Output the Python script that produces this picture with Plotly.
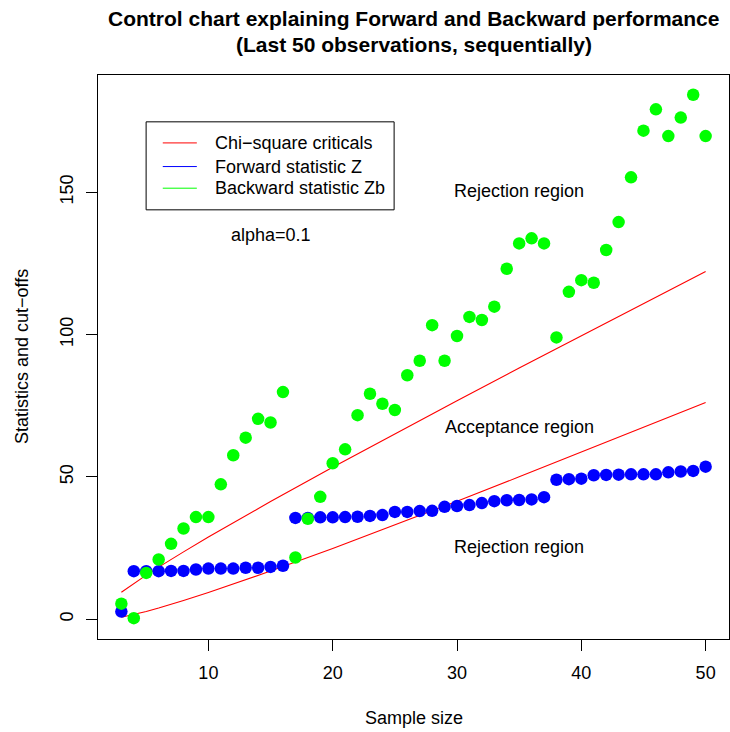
import plotly.graph_objects as go

# ---------------- data ----------------
sample_size = list(range(3, 51))
forward_z = [2.7, 16.9, 16.9, 16.9, 17.0, 17.0, 17.5, 17.8, 17.8, 17.8, 18.1, 18.1, 18.4, 18.8,
             35.6, 35.6, 35.8, 35.8, 35.9, 36.0, 36.3, 36.6, 37.7, 37.7, 38.0, 38.1, 39.5, 39.8,
             40.1, 40.8, 41.5, 41.8, 41.9, 42.1, 42.9, 49.0, 49.2, 49.4, 50.6, 50.7, 50.8, 50.9,
             50.9, 50.9, 51.6, 51.9, 52.1, 53.6]
backward_zb = [5.5, 0.4, 16.3, 21.0, 26.5, 31.9, 35.9, 35.9, 47.4, 57.6, 63.8, 70.4, 69.1, 79.8,
               21.7, 35.3, 43.0, 54.8, 59.7, 71.7, 79.2, 75.7, 73.5, 85.7, 90.8, 103.3, 90.8, 99.5,
               106.2, 105.1, 109.8, 123.1, 132.0, 133.8, 132.0, 99.0, 115.0, 119.1, 118.2, 129.7,
               139.5, 155.2, 171.6, 179.1, 169.7, 176.2, 184.2, 169.7]
crit_n = [3, 4, 5, 6, 7, 8, 10, 12, 15, 20, 25, 30, 35, 40, 45, 50]
crit_lower = [0.71, 1.64, 2.73, 3.94, 5.23, 6.57, 9.39, 12.34, 16.93, 24.88, 33.10, 41.49,
              50.02, 58.65, 67.37, 76.16]
crit_upper = [9.49, 12.59, 15.51, 18.31, 21.03, 23.68, 28.87, 33.92, 41.34, 53.38, 65.17,
              76.78, 88.25, 99.62, 110.90, 122.11]

x_ticks = [10, 20, 30, 40, 50]
y_ticks = [0, 50, 100, 150]
legend_labels = ["Chi\u2212square criticals", "Forward statistic Z", "Backward statistic Zb"]
legend_colors = ["#FF0000", "#0000FF", "#00FF00"]
region_labels = ["Rejection region", "Acceptance region", "Rejection region"]
title_lines = ["Control chart explaining Forward and Backward performance",
               "(Last 50 observations, sequentially)"]

FONT = "Liberation Sans, Arial, Helvetica, sans-serif"

# ---------------- figure ----------------
fig = go.Figure()
fig.add_trace(go.Scatter(x=crit_n, y=crit_upper, mode="lines",
                         line=dict(color="#FF0000", width=1.1), hoverinfo="skip"))
fig.add_trace(go.Scatter(x=crit_n, y=crit_lower, mode="lines",
                         line=dict(color="#FF0000", width=1.1), hoverinfo="skip"))
fig.add_trace(go.Scatter(x=sample_size, y=forward_z, mode="markers",
                         marker=dict(color="#0000FF", size=12.5, line=dict(width=0))))
fig.add_trace(go.Scatter(x=sample_size, y=backward_zb, mode="markers",
                         marker=dict(color="#00FF00", size=12.5, line=dict(width=0))))

XR = [1.12, 51.88]
YR = [-6.92, 191.15]

axis_common = dict(showgrid=False, zeroline=False, showline=True, mirror=True,
                   linecolor="black", linewidth=1, ticks="outside", ticklen=11,
                   tickwidth=1, tickcolor="black",
                   tickfont=dict(family=FONT, size=18, color="black"))

fig.update_layout(
    width=730, height=732,
    margin=dict(l=98, r=1, t=75, b=93),
    paper_bgcolor="white", plot_bgcolor="white",
    showlegend=False,
    font=dict(family=FONT, color="black", size=18),
    xaxis=dict(range=XR, tickvals=x_ticks, ticklabelstandoff=6, **axis_common),
    yaxis=dict(range=YR, tickvals=y_ticks, tickangle=-90, ticklabelstandoff=6, **axis_common),
)

ann = []
# titles
ann.append(dict(text="<b>%s</b>" % title_lines[0], xref="paper", yref="paper", x=0.5, y=1,
                yshift=75 - 18, xanchor="center", yanchor="middle", showarrow=False,
                font=dict(family=FONT, size=21, color="black")))
ann.append(dict(text="<b>%s</b>" % title_lines[1], xref="paper", yref="paper", x=0.5, y=1,
                yshift=75 - 44, xanchor="center", yanchor="middle", showarrow=False,
                font=dict(family=FONT, size=21, color="black")))
# axis titles
ann.append(dict(text="Sample size", xref="paper", yref="paper", x=0.5, y=0,
                yshift=-(718 - 639), xanchor="center", yanchor="middle", showarrow=False,
                font=dict(family=FONT, size=18, color="black")))
ann.append(dict(text="Statistics and cut\u2212offs", xref="paper", yref="paper", x=0, y=0.5,
                xshift=-(98 - 22), xanchor="center", yanchor="middle", textangle=-90,
                showarrow=False, font=dict(family=FONT, size=18, color="black")))
# region texts
for lbl, yy in zip(region_labels, [150.5, 67.5, 25.5]):
    ann.append(dict(text=lbl, x=35, y=yy, xref="x", yref="y", showarrow=False,
                    xanchor="center", yanchor="middle",
                    font=dict(family=FONT, size=18, color="black")))
ann.append(dict(text="alpha=0.1", x=15, y=135, xref="x", yref="y", showarrow=False,
                xanchor="center", yanchor="middle",
                font=dict(family=FONT, size=18, color="black")))

# legend (drawn manually like base R legend)
shapes = [dict(type="rect", xref="x", yref="y", x0=4.99, x1=24.94, y0=143.8, y1=174.7,
               line=dict(color="black", width=1), fillcolor="rgba(0,0,0,0)")]
leg_rows = [167.3, 159.0, 151.4]
for lbl, col, yy in zip(legend_labels, legend_colors, leg_rows):
    shapes.append(dict(type="line", xref="x", yref="y", x0=6.33, x1=9.07, y0=yy, y1=yy,
                       line=dict(color=col, width=1)))
    ann.append(dict(text=lbl, x=10.39, y=yy, xref="x", yref="y", showarrow=False,
                    xanchor="left", yanchor="middle",
                    font=dict(family=FONT, size=18, color="black")))

fig.update_layout(annotations=ann, shapes=shapes)
fig.write_html("out.html")
